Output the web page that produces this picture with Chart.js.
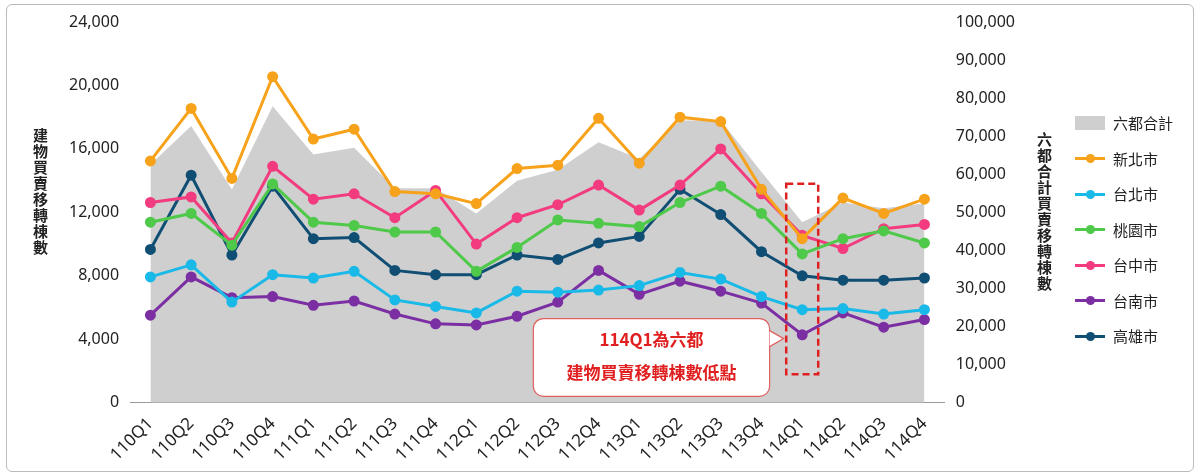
<!DOCTYPE html>
<html><head><meta charset="utf-8">
<script src="https://cdn.jsdelivr.net/npm/chart.js@4"></script>
<style>
body{margin:0;background:#fff;font-family:"Noto Sans CJK TC","Noto Sans",sans-serif;}
#wrap{position:relative;width:1200px;height:476px;}
#frame{position:absolute;left:6px;top:4px;width:1186px;height:466px;border:1px solid #bbb;border-radius:6px;}
canvas{position:absolute;left:0;top:0;}
.vt{position:absolute;writing-mode:vertical-rl;font-size:15px;font-weight:bold;color:#222;letter-spacing:1px;}
#legend{position:absolute;left:1075px;top:105px;font-size:15px;color:#222;}
#legend div{height:35.5px;display:flex;align-items:center;}
.sw{display:inline-block;width:30px;height:14px;margin-right:8px;position:relative;}
</style></head><body>
<div id="wrap"><div id="frame"></div>
<canvas id="c" width="1200" height="476"></canvas>
<div class="vt" style="left:30px;top:128px;">建物買賣移轉棟數</div>
<div class="vt" style="left:1034px;top:132px;">六都合計買賣移轉棟數</div>
<div id="legend"></div>
</div>
<script>
const labels = ['110Q1','110Q2','110Q3','110Q4','111Q1','111Q2','111Q3','111Q4','112Q1','112Q2','112Q3','112Q4','113Q1','113Q2','113Q3','113Q4','114Q1','114Q2','114Q3','114Q4'];
const total = [62600,72700,56000,77900,65200,67000,56300,56300,49700,58300,61200,68400,64100,74100,74100,60600,47400,52600,51100,52300];
const newTaipei = [15240,18550,14140,20550,16620,17240,13310,13170,12550,14760,14970,17930,15100,18000,17720,13450,10340,12900,11930,12830];
const taipei = [7930,8690,6340,8070,7860,8280,6480,6070,5660,7030,6970,7100,7380,8210,7790,6690,5860,5930,5590,5860];
const taoyuan = [11380,11930,9930,13790,11380,11170,10760,10760,8280,9790,11520,11310,11100,12620,13650,11930,9380,10340,10830,10070];
const taichung = [12620,12970,10070,14900,12830,13170,11660,13380,10000,11660,12480,13720,12140,13720,16000,13170,10550,9720,10970,11240];
const tainan = [5520,7930,6620,6690,6140,6410,5590,4970,4900,5450,6340,8340,6830,7660,7030,6280,4280,5660,4760,5240];
const kaohsiung = [9660,14340,9310,13650,10340,10410,8340,8070,8070,9310,9030,10070,10480,13450,11860,9520,8000,7720,7720,7860];

const lines = [
  ['新北市', newTaipei, '#f7a21b'],
  ['台北市', taipei, '#19b9e8'],
  ['桃園市', taoyuan, '#4fc94a'],
  ['台中市', taichung, '#f23c7f'],
  ['台南市', tainan, '#7b2fa3'],
  ['高雄市', kaohsiung, '#104e74'],
];
const datasets = [{
  label: '六都合計', data: total, yAxisID: 'y2', fill: 'origin',
  backgroundColor: '#cfcfcf', borderWidth: 0, pointRadius: 0, tension: 0, order: 10
}];
lines.forEach(([name, data, color]) => datasets.push({
  label: name, data, yAxisID: 'y', borderColor: color, backgroundColor: color,
  borderWidth: 3, pointRadius: 4, pointHoverRadius: 4, tension: 0, order: 1
}));

// legend
const lg = document.getElementById('legend');
lg.innerHTML = '<div><span class="sw" style="background:#cfcfcf"></span>六都合計</div>' +
  lines.map(([n,,c]) => `<div><span class="sw"><span style="position:absolute;left:0;top:6px;width:30px;height:3px;background:${c}"></span><span style="position:absolute;left:11px;top:3px;width:9px;height:9px;border-radius:50%;background:${c}"></span></span>${n}</div>`).join('');

const notes = {
  id: 'notes',
  afterDraw(ch) {
    const ctx = ch.ctx, x = ch.scales.x, y = ch.scales.y;
    const cx = x.getPixelForValue(16);
    ctx.save();
    ctx.strokeStyle = '#e02020'; ctx.lineWidth = 2.5; ctx.setLineDash([7,4]);
    ctx.strokeRect(cx - 16, y.getPixelForValue(13800), 32, y.getPixelForValue(1800) - y.getPixelForValue(13800));
    ctx.setLineDash([]);
    const l = x.getPixelForValue(9.4), r = x.getPixelForValue(15.2);
    const t = y.getPixelForValue(5300), b = y.getPixelForValue(400);
    ctx.fillStyle = '#fff'; ctx.strokeStyle = '#e06060'; ctx.lineWidth = 1.2;
    ctx.beginPath();
    ctx.roundRect(l, t, r - l, b - t, 10);
    ctx.fill(); ctx.stroke();
    ctx.beginPath();
    ctx.moveTo(r, t + 12); ctx.lineTo(r + 14, t + 20); ctx.lineTo(r, t + 28);
    ctx.fill(); ctx.stroke();
    ctx.fillStyle = '#e02020'; ctx.font = 'bold 17px "Noto Sans CJK TC"'; ctx.textAlign = 'center';
    ctx.fillText('114Q1為六都', (l + r) / 2, t + 27);
    ctx.fillText('建物買賣移轉棟數低點', (l + r) / 2, t + 60);
    ctx.restore();
  }
};

new Chart(document.getElementById('c'), {
  type: 'line',
  data: { labels, datasets },
  plugins: [notes],
  options: {
    responsive: false, animation: false,
    layout: { padding: { left: 66, right: 182, top: 22, bottom: 8 } },
    plugins: { legend: { display: false }, tooltip: { enabled: false } },
    scales: {
      x: {
        offset: true, grid: { display: false },
        border: { color: '#999' },
        ticks: { maxRotation: 45, minRotation: 45, color: '#222', font: { size: 17, family: 'Noto Sans' } }
      },
      y: {
        min: 0, max: 24000, position: 'left',
        grid: { display: false }, border: { display: false },
        ticks: { stepSize: 4000, color: '#222', font: { size: 16, family: 'Noto Sans' },
          callback: v => v.toLocaleString('en-US') }
      },
      y2: {
        min: 0, max: 100000, position: 'right',
        grid: { display: false }, border: { display: false },
        ticks: { stepSize: 10000, color: '#222', font: { size: 16, family: 'Noto Sans' },
          callback: v => v.toLocaleString('en-US') }
      }
    }
  }
});
</script>
</body></html>
